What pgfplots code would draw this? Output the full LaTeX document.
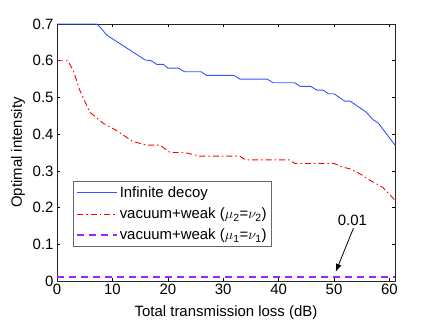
\documentclass[border=0pt]{standalone}
\usepackage{pgfplots}
\pgfplotsset{compat=1.18}
\usepackage{fontspec}
\setmainfont{Liberation Sans}
\usetikzlibrary{calc,arrows.meta}
\definecolor{cblue}{RGB}{51,85,255}
\definecolor{cred}{RGB}{255,0,0}
\begin{document}
\begin{tikzpicture}
\begin{axis}[
  scale only axis,
  width=338bp, height=257bp,
  xmin=0, xmax=61, ymin=0, ymax=0.7,
  xtick={0,10,20,30,40,50,60},
  ytick={0,0.1,0.2,0.3,0.4,0.5,0.6,0.7},
  yticklabel style={/pgf/number format/fixed,/pgf/number format/precision=1},
  /pgf/number format/assume math mode=true,
  tick align=inside, xtick pos=both, ytick pos=both,
  major tick length=3bp,
  axis line style={black!85, line width=0.7pt},
  every tick/.style={black, line width=0.5pt},
  font=\fontsize{15}{17}\selectfont,
  tick label style={font=\fontsize{15}{17}\selectfont},
  xlabel={Total transmission loss (dB)},
  ylabel={Optimal intensity},
  xlabel style={yshift=-4bp},
  ylabel style={yshift=1bp},
  legend style={at={(0.047,0.389)}, anchor=north west, draw=black!60, line width=1pt,
    font=\fontsize{15}{17}\selectfont, row sep=5bp, inner sep=3bp},
  legend cell align=left,
  legend image code/.code={\draw[#1] (0cm,0cm) -- (1.4cm,0cm);},
  clip=false,
]
\addplot[draw=cblue, line width=0.9pt] coordinates {
(0,0.7)(7.1,0.7)(7.7,0.693)(8.95,0.67)(15.9,0.602)(17,0.6)(18,0.59)(19.2,0.59)(20,0.58)(21.9,0.58)(23,0.57)(26,0.57)(27,0.56)(31.9,0.56)(33,0.55)(37.9,0.55)(39,0.54)(42.9,0.54)(43.9,0.53)(45.8,0.53)(46.9,0.52)(48,0.52)(49,0.51)(50,0.51)(51.9,0.49)(52.9,0.49)(55.8,0.46)(57,0.44)(58,0.43)(61,0.37)};
\addlegendentry{Infinite decoy}
\addplot[draw=cred, line width=0.9pt, dash pattern=on 6bp off 3bp on 1.5bp off 3bp] coordinates {
(0,0.6)(2,0.6)(3,0.57)(4.1,0.52)(5.9,0.46)(8.3,0.43)(10.7,0.41)(13.7,0.38)(16.2,0.37)(18.6,0.37)(20.4,0.35)(23,0.35)(25.8,0.34)(33,0.34)(34,0.33)(42,0.33)(42.9,0.32)(50,0.32)(51.6,0.31)(53,0.305)(54.9,0.29)(56.4,0.275)(58.8,0.255)(61,0.22)};
\addlegendentry{vacuum+weak ($\mathrm{\mu_2}$=$\mathrm{\nu_2}$)}
\addplot[draw={rgb,255:red,150;green,40;blue,255}, line width=1.7pt, dash pattern=on 7bp off 5bp] coordinates {
(0,0.01)(61,0.01)};
\addlegendentry{vacuum+weak ($\mathrm{\mu_1}$=$\mathrm{\nu_1}$)}
\node at (axis cs:53.3,0.166) {0.01};
\draw[-{Latex[length=8bp,width=6bp]}, line width=0.8pt] (axis cs:53.5,0.144) -- (axis cs:50.3,0.025);
\end{axis}
\path ($(current axis.south west)+(-57bp,-39bp)$) rectangle ($(current axis.north east)+(41bp,24bp)$);
\end{tikzpicture}
\end{document}
